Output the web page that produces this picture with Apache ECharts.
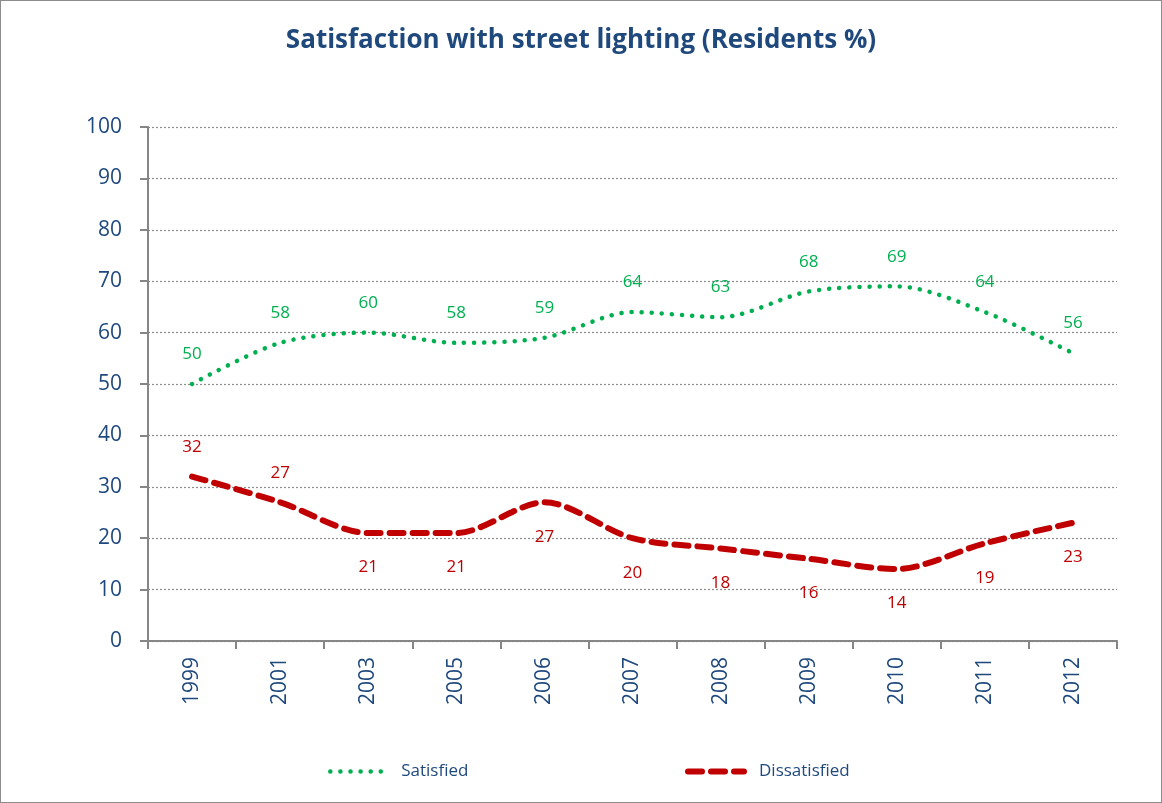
<!DOCTYPE html>
<html>
<head>
<meta charset="utf-8">
<script src="https://cdn.jsdelivr.net/npm/echarts@6/dist/echarts.min.js"></script>
<style>
  html, body { margin: 0; padding: 0; background: #fff; }
  #chart { width: 1162px; height: 803px; box-sizing: border-box; border: 1px solid #8c8c8c; }
</style>
</head>
<body>
<div id="chart"></div>
<script>
// data
const years = ['1999', '2001', '2003', '2005', '2006', '2007', '2008', '2009', '2010', '2011', '2012'];
const satisfied = [50, 58, 60, 58, 59, 64, 63, 68, 69, 64, 56];
const dissatisfied = [32, 27, 21, 21, 27, 20, 18, 16, 14, 19, 23];

const chart = echarts.init(document.getElementById('chart'));

const navy = '#1f497d';
const green = '#00b050';
const red = '#c00000';
const font = 'Open Sans';

const legendBase = {
  top: 757,
  itemWidth: 56, itemHeight: 12,
  itemStyle: { opacity: 0 },
  textStyle: { fontFamily: font, fontSize: 17, color: navy, padding: [0, 0, 0, 10] }
};

const option = {
  animation: false,
  title: {
    text: 'Satisfaction with street lighting (Residents %)',
    left: 'center',
    top: 22,
    textStyle: { fontFamily: font, fontWeight: 'bold', fontSize: 26, color: navy }
  },
  legend: [
    Object.assign({}, legendBase, {
      data: ['Satisfied'], left: 322,
      lineStyle: { width: 4.5, type: [0.1, 10], cap: 'round' }
    }),
    Object.assign({}, legendBase, {
      data: ['Dissatisfied'], left: 679,
      lineStyle: { width: 6, type: [14, 9], cap: 'round' }
    })
  ],
  grid: { left: 147, right: 44, top: 126, bottom: 161 },
  xAxis: {
    type: 'category',
    data: years,
    boundaryGap: true,
    axisLine: { lineStyle: { color: '#868686', width: 2 } },
    axisTick: { show: true, length: 8, lineStyle: { color: '#868686', width: 2 } },
    axisLabel: {
      rotate: 90, margin: 16, interval: 0,
      fontFamily: font, fontSize: 21, color: navy
    }
  },
  yAxis: {
    type: 'value',
    min: 0, max: 100, interval: 10,
    axisLine: { show: true, lineStyle: { color: '#868686', width: 2 } },
    axisTick: { show: true, length: 8, lineStyle: { color: '#868686', width: 2 } },
    axisLabel: { margin: 26, fontFamily: font, fontSize: 21, color: navy },
    splitLine: { lineStyle: { color: '#8c8c8c', type: [2, 2], width: 1.2 } }
  },
  series: [
    {
      name: 'Satisfied',
      type: 'line',
      smooth: 0.3,
      data: satisfied,
      symbol: 'circle',
      symbolSize: 0.1,
      showSymbol: true,
      itemStyle: { color: 'rgba(0,0,0,0)' },
      lineStyle: { color: green, width: 4.5, type: [0.1, 10], cap: 'round' },
      label: {
        show: true, position: 'top', distance: 21,
        fontFamily: font, fontSize: 17, color: green
      }
    },
    {
      name: 'Dissatisfied',
      type: 'line',
      smooth: 0.3,
      // first two labels sit above the line, the rest below
      data: dissatisfied.map((v, i) => ({
        value: v,
        label: i < 2 ? { position: 'top', distance: 21 } : { position: 'bottom', distance: 26 }
      })),
      symbol: 'circle',
      symbolSize: 0.1,
      showSymbol: true,
      itemStyle: { color: 'rgba(0,0,0,0)' },
      lineStyle: { color: red, width: 6, type: [14, 9], cap: 'round' },
      label: {
        show: true,
        fontFamily: font, fontSize: 17, color: red
      }
    }
  ]
};

chart.setOption(option);
</script>
</body>
</html>
